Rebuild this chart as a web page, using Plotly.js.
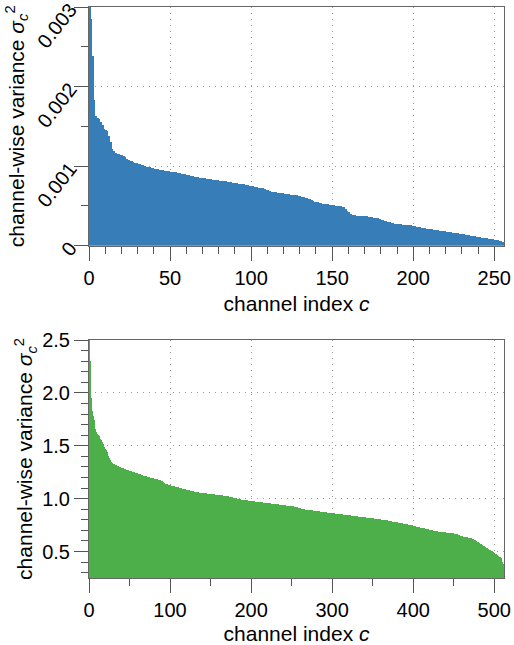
<!DOCTYPE html>
<html><head><meta charset="utf-8">
<script src="https://cdn.plot.ly/plotly-3.0.1.min.js"></script>
<style>html,body{margin:0;padding:0;background:#fff}#chart{width:514px;height:645px}</style>
</head><body><div id="chart"></div>
<script>
// channel-wise variance, sorted descending (top panel, 256 channels)
const varianceTop = [
3.6e-3,2.85e-3,2.38e-3,1.83e-3,1.63e-3,1.61e-3,1.59e-3,1.56e-3,1.52e-3,1.47e-3,1.46e-3,1.44e-3,1.38e-3,1.30e-3,1.22e-3,1.19e-3,
1.16e-3,1.155e-3,1.15e-3,1.145e-3,1.14e-3,1.13e-3,1.12e-3,1.09e-3,1.08e-3,1.07e-3,1.06e-3,1.05e-3,1.045e-3,1.04e-3,1.03e-3,1.025e-3,1.02e-3,1.01e-3,1.0e-3,0.995e-3,0.99e-3,0.985e-3,0.98e-3,0.975e-3,0.97e-3,0.965e-3,0.96e-3,0.955e-3,0.95e-3,
0.946e-3,0.943e-3,0.94e-3,0.937e-3,0.934e-3,0.931e-3,0.928e-3,0.925e-3,0.922e-3,0.919e-3,0.916e-3,0.912e-3,
0.905e-3,0.9e-3,0.895e-3,0.89e-3,0.885e-3,0.88e-3,0.875e-3,0.87e-3,
0.866e-3,0.862e-3,0.858e-3,0.855e-3,0.852e-3,0.849e-3,0.846e-3,0.843e-3,0.84e-3,0.837e-3,0.834e-3,0.831e-3,0.828e-3,0.825e-3,0.822e-3,
0.819e-3,0.816e-3,0.813e-3,0.81e-3,0.807e-3,0.804e-3,0.8e-3,0.796e-3,0.792e-3,0.788e-3,
0.785e-3,0.782e-3,0.779e-3,0.776e-3,0.773e-3,0.77e-3,0.766e-3,0.762e-3,0.758e-3,0.754e-3,
0.75e-3,0.745e-3,0.74e-3,0.735e-3,0.73e-3,0.727e-3,0.724e-3,0.72e-3,0.715e-3,0.705e-3,0.695e-3,
0.682e-3,0.679e-3,0.676e-3,0.673e-3,0.67e-3,0.667e-3,0.664e-3,0.661e-3,0.658e-3,0.655e-3,
0.652e-3,0.649e-3,0.646e-3,0.643e-3,0.64e-3,0.637e-3,0.634e-3,0.631e-3,0.628e-3,0.624e-3,
0.612e-3,0.608e-3,0.603e-3,0.598e-3,0.592e-3,0.585e-3,0.575e-3,0.565e-3,
0.555e-3,0.55e-3,0.545e-3,0.54e-3,0.535e-3,0.53e-3,0.527e-3,0.524e-3,0.52e-3,
0.515e-3,0.512e-3,0.509e-3,0.506e-3,0.503e-3,0.5e-3,0.497e-3,0.494e-3,0.491e-3,0.488e-3,
0.46e-3,0.44e-3,0.42e-3,0.4e-3,
0.385e-3,0.383e-3,0.381e-3,0.379e-3,0.377e-3,0.375e-3,0.373e-3,0.371e-3,0.369e-3,0.367e-3,0.365e-3,
0.36e-3,0.356e-3,0.352e-3,0.348e-3,0.345e-3,0.342e-3,
0.33e-3,0.325e-3,0.32e-3,0.315e-3,0.31e-3,0.3e-3,0.295e-3,0.29e-3,
0.28e-3,0.277e-3,0.274e-3,0.272e-3,0.27e-3,0.268e-3,0.266e-3,0.264e-3,0.262e-3,0.26e-3,0.257e-3,0.254e-3,
0.25e-3,0.246e-3,0.242e-3,0.238e-3,0.234e-3,0.23e-3,0.226e-3,0.222e-3,0.218e-3,0.214e-3,
0.21e-3,0.207e-3,0.204e-3,0.201e-3,0.198e-3,0.195e-3,0.192e-3,0.189e-3,0.186e-3,0.183e-3,0.18e-3,0.177e-3,0.174e-3,0.171e-3,0.168e-3,
0.164e-3,0.161e-3,0.158e-3,0.155e-3,0.152e-3,0.149e-3,0.146e-3,0.143e-3,0.14e-3,0.136e-3,0.132e-3,0.128e-3,0.124e-3,0.12e-3,0.116e-3,0.112e-3,
0.108e-3,0.104e-3,0.1e-3,0.097e-3,0.094e-3,0.091e-3,0.088e-3,0.085e-3,0.082e-3,0.079e-3,0.076e-3,0.072e-3,0.068e-3,0.062e-3,0.055e-3,0.048e-3
];

// channel-wise variance, sorted descending (bottom panel, 512 channels)
const varianceBottom = [
2.6,2.3,2.1,1.95,1.83,1.78,1.74,1.70,1.66,1.63,1.61,1.60,1.59,1.58,1.56,1.55,1.54,1.52,1.51,1.49,1.47,1.46,1.44,1.42,1.40,1.38,1.37,1.35,1.34,1.335,1.33,
1.326,1.322,1.318,1.314,1.31,1.306,1.302,1.298,
1.295,1.292,1.289,1.286,1.283,1.28,1.277,1.274,1.271,1.268,1.265,1.262,1.26,1.258,1.256,1.254,1.252,
1.25,1.247,1.244,1.241,1.238,1.235,1.232,1.229,1.226,1.223,1.22,1.217,1.214,1.212,1.21,1.208,
1.206,1.204,1.202,1.2,1.198,1.196,1.194,1.192,1.19,1.188,1.186,1.184,1.182,1.18,1.178,1.175,1.172,
1.168,1.163,1.158,1.153,1.148,1.143,1.139,1.136,1.133,1.13,1.128,1.126,
1.124,1.122,1.12,1.118,1.116,1.114,1.112,1.11,1.108,1.106,1.104,1.102,1.1,1.098,1.096,1.094,1.092,1.09,1.088,1.086,1.084,
1.082,1.08,1.078,1.076,1.074,1.072,1.07,1.068,1.066,1.064,1.062,1.061,1.06,1.059,1.058,1.057,
1.056,1.055,1.054,1.053,1.052,1.051,1.05,1.049,1.048,1.047,1.046,1.045,1.044,1.043,1.042,1.041,1.04,1.039,1.038,1.037,1.036,
1.035,1.034,1.033,1.032,1.031,1.03,1.029,1.028,1.027,1.026,1.025,1.024,1.023,1.022,1.02,1.018,1.016,1.014,1.012,1.01,
1.008,1.006,1.004,1.002,1.0,0.998,0.996,0.994,0.992,0.99,0.989,0.988,0.987,0.986,0.985,0.984,0.983,
0.982,0.981,0.98,0.979,0.978,0.977,0.976,0.975,0.974,0.973,0.972,0.971,0.97,0.969,0.968,0.967,
0.966,0.965,0.964,0.963,0.962,0.961,0.96,0.959,0.958,0.957,0.956,0.955,0.954,0.953,0.952,0.951,0.95,0.949,0.948,0.947,0.946,0.945,0.944,0.943,0.942,0.941,0.94,0.939,0.938,0.937,0.936,0.935,0.934,0.933,0.932,0.931,0.93,0.929,0.928,0.927,0.926,
0.925,0.923,0.921,0.919,0.917,0.915,0.913,0.911,0.909,0.907,0.905,0.903,0.901,0.899,0.897,0.896,0.895,0.894,0.893,0.892,0.891,0.89,0.889,0.888,0.887,0.886,0.885,0.884,0.883,
0.881,0.88,0.879,0.878,0.877,0.876,0.875,0.874,0.873,0.872,0.871,0.87,0.869,0.868,0.867,0.866,0.865,0.864,0.863,0.862,0.861,0.86,0.859,0.858,0.857,0.856,0.855,0.854,0.853,0.852,0.851,0.85,0.849,
0.848,0.847,0.846,0.845,0.844,0.843,0.842,0.841,0.84,0.839,0.838,0.837,0.836,0.835,0.834,0.833,0.832,0.831,0.83,0.829,0.828,0.827,0.826,0.825,0.824,0.823,0.822,0.821,0.82,0.819,0.818,0.817,0.816,
0.815,0.814,0.813,0.812,0.811,0.81,0.809,0.808,0.807,0.806,0.805,0.804,0.803,0.802,0.801,0.8,0.799,0.798,0.797,0.796,0.795,
0.792,0.79,0.789,0.787,0.786,0.784,0.783,0.781,0.78,0.778,0.777,0.775,0.774,0.772,0.771,0.769,0.768,0.766,0.765,0.763,0.762,0.76,0.759,0.757,0.756,0.754,0.753,0.751,0.75,0.748,0.747,0.745,0.744,
0.738,0.736,0.734,0.733,0.731,0.729,0.727,0.726,0.724,0.722,0.72,0.719,0.717,0.715,0.713,0.712,0.71,0.708,0.706,0.705,0.703,0.701,0.699,0.698,0.696,0.694,0.692,0.691,
0.69,0.689,0.688,0.687,0.686,0.685,0.684,0.683,0.682,0.681,0.68,0.679,0.678,0.677,0.676,0.675,0.674,0.673,0.672,0.671,0.67,0.668,0.666,0.664,0.662,
0.656,0.654,0.652,0.65,0.648,0.646,0.644,0.642,0.64,0.638,0.636,0.634,0.632,0.63,0.628,0.626,0.624,0.622,0.62,0.616,
0.612,0.607,0.602,0.597,0.592,0.587,0.582,0.577,0.572,0.567,0.562,0.557,0.552,
0.547,0.542,0.537,0.532,0.527,0.522,0.517,0.512,0.507,0.502,0.497,0.492,
0.486,0.48,0.474,0.468,0.462,0.456,0.45,0.444,
0.435,0.42,0.40,0.385
];

const xTickValsTop = [0, 50, 100, 150, 200, 250];
const xTickTextTop = ['0', '50', '100', '150', '200', '250'];
const yTickValsTop = [0, 0.001, 0.002, 0.003];
const yTickTextTop = ['0', '0.001', '0.002', '0.003'];
const xTickValsBottom = [0, 100, 200, 300, 400, 500];
const xTickTextBottom = ['0', '100', '200', '300', '400', '500'];
const yTickValsBottom = [0.5, 1.0, 1.5, 2.0, 2.5];
const yTickTextBottom = ['0.5', '1.0', '1.5', '2.0', '2.5'];
const xTitleText = 'channel index <i>c</i>';
const yTitleText = 'channel-wise variance <i>σ</i><sub><i>c</i></sub><sup>2</sup>';

const channelsTop = varianceTop.map((_, i) => i);
const channelsBottom = varianceBottom.map((_, i) => i);

const FONT = 'Liberation Sans, Arial, Helvetica, sans-serif';
const tickFont = {family: FONT, size: 20, color: '#000'};
const titleFont = {family: FONT, size: 21, color: '#000'};

function axisBase(extra) {
  return Object.assign({
    showline: true, linecolor: '#666', linewidth: 1, mirror: true,
    ticks: 'outside', ticklen: 14, tickwidth: 1, tickcolor: '#555',
    showgrid: true, gridcolor: '#999', gridwidth: 1, griddash: '1px,5px',
    zeroline: false, tickfont: tickFont, tickmode: 'array', automargin: false,
    ticklabeloverflow: 'allow', fixedrange: true
  }, extra);
}
function minor(d) {
  return {tickmode: 'linear', tick0: 0, dtick: d, ticks: 'outside', ticklen: 7, tickwidth: 1, tickcolor: '#555', showgrid: false};
}

const traces = [
  {type: 'bar', x: channelsTop, y: varianceTop, width: 1, offset: 0,
   marker: {color: '#377eb8', line: {width: 0}}, xaxis: 'x', yaxis: 'y', hoverinfo: 'skip'},
  {type: 'bar', x: channelsBottom, y: varianceBottom, width: 1, offset: 0,
   marker: {color: '#4daf4a', line: {width: 0}}, xaxis: 'x2', yaxis: 'y2', hoverinfo: 'skip'}
];

const layout = {
  width: 514, height: 645,
  margin: {l: 89, r: 10, t: 7, b: 67},
  paper_bgcolor: '#fff', plot_bgcolor: '#fff',
  showlegend: false, bargap: 0,
  xaxis: axisBase({domain: [0, 1], anchor: 'y', range: [0, 256],
    tickvals: xTickValsTop, ticktext: xTickTextTop, minor: minor(10),
    title: {text: xTitleText, font: titleFont, standoff: 8}}),
  yaxis: axisBase({domain: [0.582, 1], anchor: 'x', range: [0, 0.0030002],
    tickvals: yTickValsTop, ticktext: yTickTextTop, tickangle: -52, minor: minor(0.0005),
    title: {text: yTitleText, font: titleFont, standoff: 2}}),
  xaxis2: axisBase({domain: [0, 1], anchor: 'y2', range: [0, 512],
    tickvals: xTickValsBottom, ticktext: xTickTextBottom, minor: minor(50),
    title: {text: xTitleText, font: titleFont, standoff: 8}}),
  yaxis2: axisBase({domain: [0, 0.4168], anchor: 'x2', range: [0.25, 2.5001],
    tickvals: yTickValsBottom, ticktext: yTickTextBottom, minor: minor(0.1),
    title: {text: yTitleText, font: titleFont, standoff: 3}})
};

Plotly.newPlot('chart', traces, layout, {displayModeBar: false, staticPlot: true});
</script>
</body></html>
